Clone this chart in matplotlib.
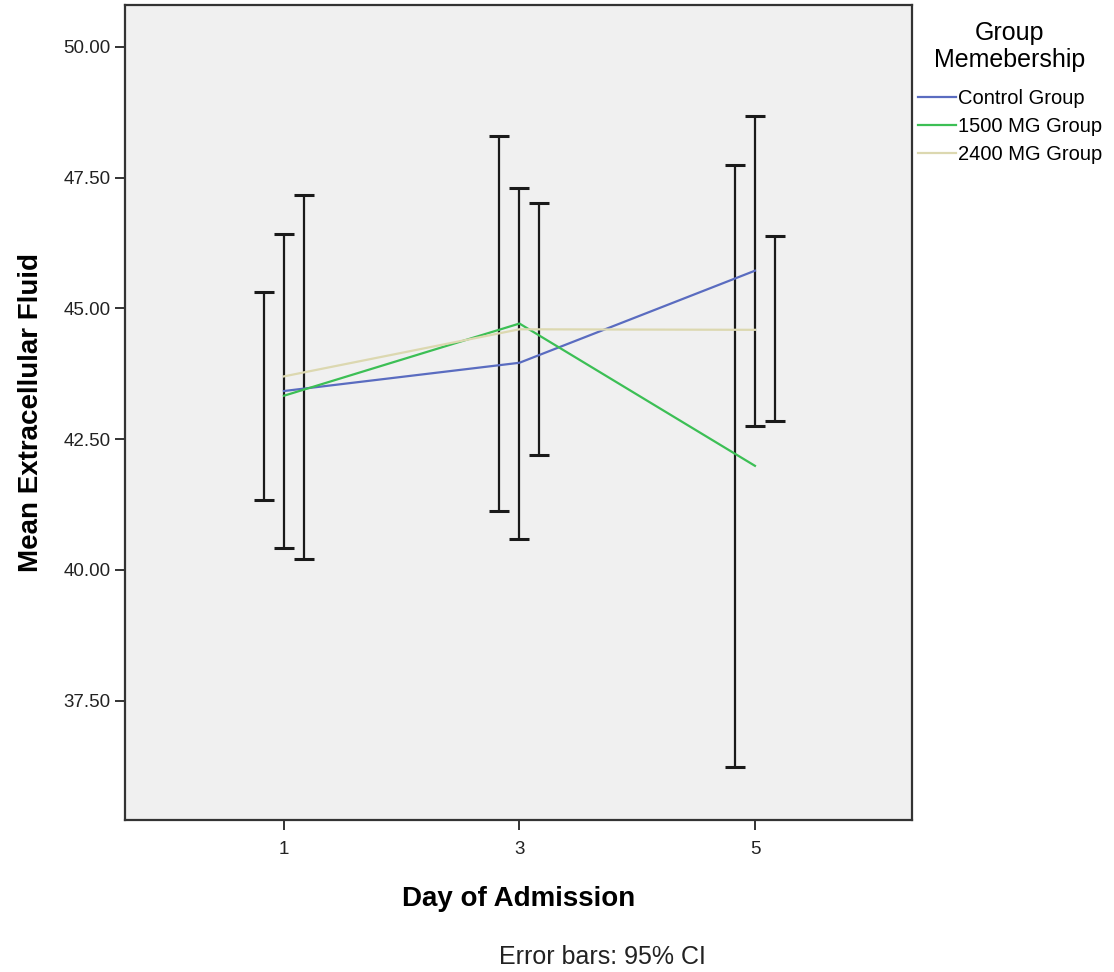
#!/usr/bin/env python3
# -*- coding: utf-8 -*-
# SPSS style line chart with dodged 95% CI error bars
import numpy as np
import matplotlib
matplotlib.use('Agg')
import matplotlib.pyplot as plt

days = ['1', '3', '5']
groups = ['Control Group', '1500 MG Group', '2400 MG Group']

control_mean = [43.42, 43.96, 45.72]
control_lo = [40.41, 40.60, 42.76]
control_hi = [46.42, 47.31, 48.67]

mg1500_mean = [43.33, 44.71, 41.99]
mg1500_lo = [41.33, 41.13, 36.23]
mg1500_hi = [45.32, 48.29, 47.75]

mg2400_mean = [43.70, 44.60, 44.59]
mg2400_lo = [40.21, 42.19, 42.84]
mg2400_hi = [47.17, 47.02, 46.39]

colors = ['#5a6cc0', '#3cbf55', '#dcd8b0']


def main():
    plt.rcParams['font.family'] = ['Liberation Sans', 'DejaVu Sans']
    fig = plt.figure(figsize=(11.14, 9.72), dpi=100)
    ax = fig.add_axes([0.1122, 0.1564, 0.8187 - 0.1122, 0.9949 - 0.1564])
    ax.set_facecolor('#f0f0f0')

    x = np.arange(len(days))
    means = [control_mean, mg1500_mean, mg2400_mean]
    los = [control_lo, mg1500_lo, mg2400_lo]
    his = [control_hi, mg1500_hi, mg2400_hi]
    # error bars dodged: 1500 left, control centre, 2400 right
    offsets = [0.0, -0.085, 0.085]

    for i in range(3):
        m = np.array(means[i])
        lo = np.array(los[i])
        hi = np.array(his[i])
        ax.errorbar(x + offsets[i], m, yerr=[m - lo, hi - m], fmt='none',
                    ecolor='#1a1a1a', elinewidth=1.6, capsize=7.5, capthick=2.2,
                    zorder=2)
        ax.plot(x, m, '-', color=colors[i], lw=1.6, label=groups[i], zorder=3)

    ax.set_xlim(-0.675, 2.667)
    ax.set_ylim(35.22, 50.80)
    ax.set_xticks(x)
    ax.set_xticklabels(days)
    ax.set_yticks([37.5, 40, 42.5, 45, 47.5, 50])
    ax.set_yticklabels(['37.50', '40.00', '42.50', '45.00', '47.50', '50.00'])
    ax.tick_params(axis='both', labelsize=13.5, length=7, width=1.4,
                   color='#333333', labelcolor='#222222')
    ax.tick_params(axis='x', pad=8)
    for s in ax.spines.values():
        s.set_color('#333333')
        s.set_linewidth(1.6)

    ax.set_xlabel('Day of Admission', fontsize=20, fontweight='bold', labelpad=20)
    ax.set_ylabel('Mean Extracellular Fluid', fontsize=20, fontweight='bold', labelpad=14)

    leg = fig.legend(loc='upper left', bbox_to_anchor=(0.8165, 0.987),
                     title='Group\nMemebership', title_fontsize=18, fontsize=14.5,
                     frameon=False, handlelength=1.9, handletextpad=0.1,
                     labelspacing=0.45, borderaxespad=0)
    leg._legend_box.align = 'center'
    leg.get_title().set_multialignment('center')
    leg.get_title().set_linespacing(1.2)
    leg._legend_box.sep = 12

    fig.text(602 / 1114, 1 - 957 / 972, 'Error bars: 95% CI', fontsize=18,
             ha='center', va='center', color='#222222')

    fig.savefig('out.png', dpi=100)


if __name__ == "__main__":
    main()
